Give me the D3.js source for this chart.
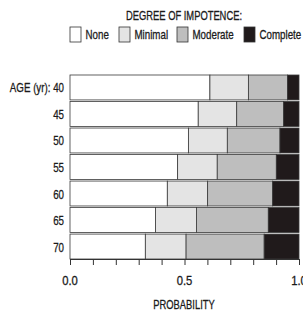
<!DOCTYPE html>
<html>
<head>
<meta charset="utf-8">
<script src="https://cdn.jsdelivr.net/npm/d3@7"></script>
<style>
  body { margin: 0; background: #fff; }
  text { font-family: "Liberation Sans", Arial, sans-serif; fill: #1a1a1a; stroke: #1a1a1a; stroke-width: 0.3px; }
</style>
</head>
<body>
<div id="chart"></div>
<script>
// ages (rows) and the degree categories
const ages = ["40", "45", "50", "55", "60", "65", "70"];
const degrees = ["None", "Minimal", "Moderate", "Complete"];

// probability of each degree, one array per category, in age order
const none     = [0.611, 0.560, 0.517, 0.470, 0.425, 0.373, 0.329];
const minimal  = [0.168, 0.168, 0.170, 0.173, 0.176, 0.179, 0.178];
const moderate = [0.171, 0.205, 0.230, 0.258, 0.284, 0.314, 0.341];
const complete = [0.050, 0.067, 0.083, 0.099, 0.115, 0.134, 0.152];

const xTicks = [0, 0.5, 1];

const width = 303;
const height = 311;
const margin = { top: 75, right: 4, bottom: 52, left: 70 };

// the original uses a condensed face; squeeze text horizontally
const squeeze = 0.75;

const rows = ages.map((a, i) => ({
    age: a,
    None: none[i],
    Minimal: minimal[i],
    Moderate: moderate[i],
    Complete: complete[i]
}));

const stack = d3.stack().keys(degrees)(rows);

const color = d3.scaleOrdinal()
    .domain(degrees)
    .range(["#ffffff", "#e4e4e4", "#bebebe", "#201a1b"]);

const x = d3.scaleLinear()
    .domain([0, 1])
    .range([margin.left, width - margin.right]);

const y = d3.scaleBand()
    .domain(ages)
    .range([margin.top, height - margin.bottom])
    .paddingInner(0.06)
    .paddingOuter(0);

const svg = d3.create("svg")
    .attr("width", width)
    .attr("height", height)
    .attr("viewBox", [0, 0, width, height]);

d3.select("#chart").append(() => svg.node());

const place = (tx, ty, s = squeeze) => `translate(${tx},${ty}) scale(${s},1)`;

// legend
svg.append("text")
    .attr("transform", place(184, 20))
    .attr("text-anchor", "middle")
    .style("font-size", "12.5px")
    .text("DEGREE OF IMPOTENCE:");

const legendX = [70, 119, 177, 244];
const legend = svg.append("g")
    .selectAll("g")
    .data(degrees)
    .join("g")
        .attr("transform", (d, i) => `translate(${legendX[i]},27)`);

legend.append("rect")
    .attr("width", 11)
    .attr("height", 15)
    .attr("fill", d => color(d))
    .attr("stroke", "#333")
    .attr("stroke-width", 0.8);

legend.append("text")
    .attr("transform", place(15.5, 12))
    .style("font-size", "13px")
    .text(d => d);

// bars
svg.append("g")
    .selectAll("g")
    .data(stack)
    .join("g")
        .attr("fill", d => color(d.key))
    .selectAll("rect")
    .data(d => d)
    .join("rect")
        .attr("x", d => x(d[0]))
        .attr("y", d => y(d.data.age))
        .attr("width", d => x(d[1]) - x(d[0]))
        .attr("height", y.bandwidth())
        .attr("stroke", "#3a3a3a")
        .attr("stroke-width", 0.8);

// age labels
svg.append("g")
    .selectAll("text")
    .data(ages)
    .join("text")
        .attr("transform", d => place(margin.left - 6, y(d) + y.bandwidth() / 2 + 5))
        .attr("text-anchor", "end")
        .style("font-size", "13px")
        .text((d, i) => i === 0 ? `AGE (yr): ${d}` : d);

// x axis
const xAxis = svg.append("g")
    .attr("transform", `translate(0,${height - margin.bottom})`)
    .call(d3.axisBottom(x).ticks(10).tickSize(6).tickFormat(""));
xAxis.select(".domain").attr("stroke", "#333");
xAxis.selectAll(".tick line").attr("stroke", "#333");

svg.append("g")
    .selectAll("text")
    .data(xTicks)
    .join("text")
        .attr("transform", d => place(x(d), height - margin.bottom + 26, 0.9))
        .attr("text-anchor", "middle")
        .style("font-size", "12.5px")
        .text(d => d3.format(".1f")(d));

svg.append("text")
    .attr("transform", place(184, 309))
    .attr("text-anchor", "middle")
    .style("font-size", "12.5px")
    .text("PROBABILITY");
</script>
</body>
</html>
